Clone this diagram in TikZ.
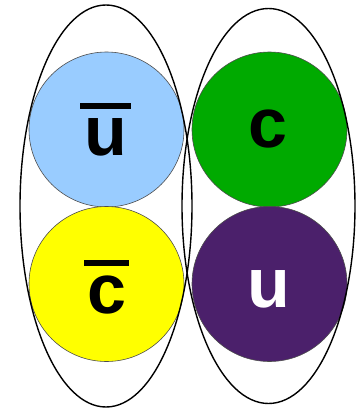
\documentclass[tikz,border=0pt]{standalone}
\usepackage{fontspec}
\setmainfont{Liberation Sans}
\definecolor{qblue}{HTML}{99CCFF}
\definecolor{qyellow}{HTML}{FFFF00}
\definecolor{qgreen}{HTML}{00AA00}
\definecolor{qpurple}{HTML}{4B206B}
\newcommand\qbar[1]{\setbox0\hbox{#1}\vbox{\offinterlineskip\hbox to \wd0{\hss\rule{1.17\wd0}{6.5pt}\hss}\kern9pt\box0}}
\begin{document}
\begin{tikzpicture}[x=1pt,y=-1pt,
  quark/.style={circle,draw=black!70,line width=0.6pt,minimum size=155pt,inner sep=0pt},
  lbl/.style={anchor=base,font=\fontsize{70}{70}\selectfont\bfseries,inner sep=0pt},
  bag/.style={ellipse,draw=black,line width=1.4pt,inner sep=0pt}]
\useasboundingbox (0,0) rectangle (356,410);
\node[quark,fill=qblue] (ub) at (106.5,129.5) {};
\node[quark,fill=qyellow] (cb) at (106.5,284) {};
\node[quark,fill=qgreen] (c) at (269.5,129.5) {};
\node[quark,fill=qpurple] (u) at (269.5,284) {};
\node[lbl] (ubl) at (105.5,155) {\qbar{u}};
\node[lbl] (cbl) at (106.5,313) {\qbar{c}};
\node[lbl] (cl) at (268,147) {c};
\node[lbl,text=white] (ul) at (269,307) {u};
\draw[line width=1.4pt] (106,206) ellipse [x radius=86, y radius=201];
\draw[line width=1.4pt] (268.5,206) ellipse [x radius=86.5, y radius=197.5];
\end{tikzpicture}
\end{document}
